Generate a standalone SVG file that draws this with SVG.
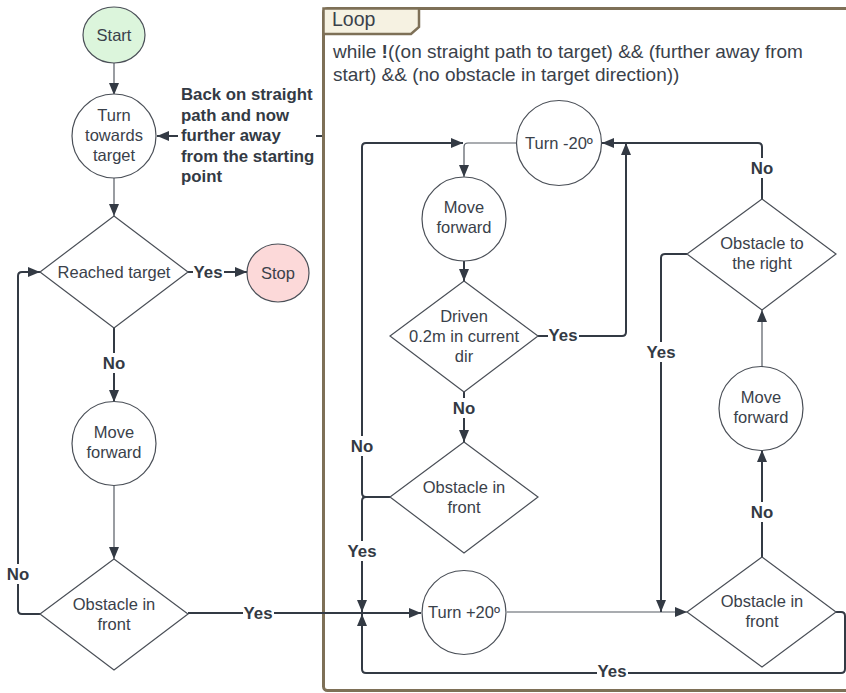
<svg xmlns="http://www.w3.org/2000/svg" width="846" height="693" viewBox="0 0 846 693">
  <defs>
    <marker id="arrow" markerUnits="userSpaceOnUse" markerWidth="12" markerHeight="10" refX="12" refY="5" orient="auto">
      <path d="M0,0 L12,5 L0,10 Z" fill="#333a44"/>
    </marker>
    <style>
      .node { fill: #ffffff; stroke: #4a4f57; stroke-width: 1.2; }
      .txt { font-family: "Liberation Sans", Arial, sans-serif; font-size: 16.5px; fill: #3a414a; text-anchor: middle; }
      .conn { fill: none; stroke: #333a44; stroke-width: 2; stroke-linejoin: round; }
      .thin { fill: none; stroke: #555b63; stroke-width: 1.2; }
      .lbl { font-family: "Liberation Sans", Arial, sans-serif; font-size: 16.8px; font-weight: bold; fill: #333a44; text-anchor: middle; }
      .bg { fill: #ffffff; }
    </style>
  </defs>
  <rect width="846" height="693" fill="#ffffff"/>

  <!-- loop frame -->
  <g id="loop">
    <rect x="323.5" y="8.5" width="540" height="682" rx="4" fill="none" stroke="#7e7057" stroke-width="3"/>
    <path d="M323.5,8.5 H419 V27 L411,34 H323.5 Z" fill="#f6f2e2" stroke="#7e7057" stroke-width="2.5"/>
    <text x="332" y="26" font-family="Liberation Sans, Arial, sans-serif" font-size="19.5" fill="#3a414a">Loop</text>
    <text x="333" y="58" font-family="Liberation Sans, Arial, sans-serif" font-size="19" fill="#3a414a">while <tspan font-weight="bold">!</tspan>((on straight path to target) &amp;&amp; (further away from</text>
    <text x="333" y="81" font-family="Liberation Sans, Arial, sans-serif" font-size="19" fill="#3a414a">start) &amp;&amp; (no obstacle in target direction))</text>
  </g>

  <!-- connectors -->
  <g id="connectors">
    <path class="thin" d="M114,63 V95" marker-end="url(#arrow)"/>
    <path class="conn" d="M322,136 H157" marker-end="url(#arrow)"/>
    <rect class="bg" x="178" y="83" width="138" height="100"/>
    <path class="thin" d="M114,178 V216" marker-end="url(#arrow)"/>
    <path class="conn" d="M188,272 H247" marker-end="url(#arrow)"/>
    <path class="conn" d="M114,328 V402" marker-end="url(#arrow)"/>
    <path class="thin" d="M114,485 V559" marker-end="url(#arrow)"/>
    <path class="conn" d="M40,614 H22 Q18,614 18,610 V276 Q18,272 22,272 H40" marker-end="url(#arrow)"/>
    <path class="conn" d="M188,613 H421" marker-end="url(#arrow)"/>

    <path class="thin" d="M516,143 H468 Q464,143 464,147 V177" marker-end="url(#arrow)"/>
    <path class="conn" d="M464,261 V281" marker-end="url(#arrow)"/>
    <path class="conn" d="M538,336 H622 Q626,336 626,332 V143" marker-end="url(#arrow)"/>
    <path class="conn" d="M464,392 V442" marker-end="url(#arrow)"/>
    <path class="conn" d="M390,497 H366 Q362,497 362,493 V147 Q362,143 366,143 H463" marker-end="url(#arrow)"/>
    <path class="conn" d="M390,497 H366 Q362,497 362,501 V612" marker-end="url(#arrow)"/>
    <path class="thin" d="M507,612 H687" marker-end="url(#arrow)"/>
    <path class="conn" d="M762,557 V450" marker-end="url(#arrow)"/>
    <path class="thin" d="M762,367 V310" marker-end="url(#arrow)"/>
    <path class="conn" d="M762,199 V147 Q762,143 758,143 H602" marker-end="url(#arrow)"/>
    <path class="conn" d="M687,254 H665 Q661,254 661,258 V612" marker-end="url(#arrow)"/>
    <path class="conn" d="M836,612 H841 Q845,612 845,616 V669 Q845,673 841,673 H366 Q362,673 362,669 V614" marker-end="url(#arrow)"/>

    <!-- connector labels -->
    <g class="lbl">
      <text x="181" y="100" text-anchor="start">Back on straight</text>
      <text x="181" y="121" text-anchor="start">path and now</text>
      <text x="181" y="141" text-anchor="start">further away</text>
      <text x="181" y="162" text-anchor="start">from the starting</text>
      <text x="181" y="182" text-anchor="start">point</text>
    </g>
    <rect class="bg" x="193" y="262" width="31" height="20"/>
    <text class="lbl" x="208" y="278">Yes</text>
    <rect class="bg" x="100" y="353" width="28" height="20"/>
    <text class="lbl" x="114" y="369">No</text>
    <rect class="bg" x="5" y="564" width="26" height="20"/>
    <text class="lbl" x="18" y="580">No</text>
    <rect class="bg" x="243" y="603" width="31" height="20"/>
    <text class="lbl" x="258" y="619">Yes</text>
    <rect class="bg" x="548" y="325" width="31" height="20"/>
    <text class="lbl" x="563" y="341">Yes</text>
    <rect class="bg" x="451" y="398" width="26" height="20"/>
    <text class="lbl" x="464" y="414">No</text>
    <rect class="bg" x="349" y="436" width="26" height="20"/>
    <text class="lbl" x="362" y="452">No</text>
    <rect class="bg" x="346" y="541" width="31" height="20"/>
    <text class="lbl" x="362" y="557">Yes</text>
    <rect class="bg" x="749" y="502" width="26" height="20"/>
    <text class="lbl" x="762" y="518">No</text>
    <rect class="bg" x="749" y="158" width="26" height="20"/>
    <text class="lbl" x="762" y="174">No</text>
    <rect class="bg" x="646" y="342" width="31" height="20"/>
    <text class="lbl" x="661" y="358">Yes</text>
    <rect class="bg" x="597" y="662" width="31" height="20"/>
    <text class="lbl" x="612" y="677">Yes</text>
  </g>

  <!-- main column -->
  <g id="start">
    <ellipse class="node" cx="114" cy="35" rx="31" ry="28" style="fill:#dcf5dc"/>
    <text class="txt" x="114" y="41">Start</text>
  </g>
  <g id="turn-towards-target">
    <circle class="node" cx="114" cy="136" r="42"/>
    <text class="txt" x="114" y="121">Turn</text>
    <text class="txt" x="114" y="141">towards</text>
    <text class="txt" x="114" y="161">target</text>
  </g>
  <g id="reached-target">
    <path class="node" d="M114,216 L188,272 L114,328 L40,272 Z"/>
    <text class="txt" x="114" y="278">Reached target</text>
  </g>
  <g id="stop">
    <ellipse class="node" cx="278" cy="273" rx="31" ry="29" style="fill:#fcd9d9"/>
    <text class="txt" x="278" y="279">Stop</text>
  </g>
  <g id="move-forward-1">
    <circle class="node" cx="114" cy="443.5" r="42"/>
    <text class="txt" x="114" y="438">Move</text>
    <text class="txt" x="114" y="458">forward</text>
  </g>
  <g id="obstacle-in-front-1">
    <path class="node" d="M114,559 L188,614 L114,670 L40,614 Z"/>
    <text class="txt" x="114" y="610">Obstacle in</text>
    <text class="txt" x="114" y="630">front</text>
  </g>

  <!-- loop body -->
  <g id="turn-minus-20">
    <circle class="node" cx="559" cy="143" r="42.5"/>
    <text class="txt" x="559" y="149">Turn -20º</text>
  </g>
  <g id="move-forward-2">
    <circle class="node" cx="464" cy="219" r="42"/>
    <text class="txt" x="464" y="213">Move</text>
    <text class="txt" x="464" y="233">forward</text>
  </g>
  <g id="driven">
    <path class="node" d="M464,281 L538,336 L464,392 L390,336 Z"/>
    <text class="txt" x="464" y="322">Driven</text>
    <text class="txt" x="464" y="342">0.2m in current</text>
    <text class="txt" x="464" y="362">dir</text>
  </g>
  <g id="obstacle-in-front-2">
    <path class="node" d="M464,442 L538,497 L464,553 L390,497 Z"/>
    <text class="txt" x="464" y="493">Obstacle in</text>
    <text class="txt" x="464" y="513">front</text>
  </g>
  <g id="turn-plus-20">
    <circle class="node" cx="464" cy="612.5" r="42"/>
    <text class="txt" x="464" y="618">Turn +20º</text>
  </g>
  <g id="obstacle-in-front-3">
    <path class="node" d="M762,557 L836,612 L762,667 L687,612 Z"/>
    <text class="txt" x="762" y="607">Obstacle in</text>
    <text class="txt" x="762" y="627">front</text>
  </g>
  <g id="move-forward-3">
    <circle class="node" cx="761" cy="408.5" r="42"/>
    <text class="txt" x="761" y="403">Move</text>
    <text class="txt" x="761" y="423">forward</text>
  </g>
  <g id="obstacle-to-right">
    <path class="node" d="M762,199 L836,254 L762,310 L687,254 Z"/>
    <text class="txt" x="762" y="249">Obstacle to</text>
    <text class="txt" x="762" y="269">the right</text>
  </g>
</svg>
